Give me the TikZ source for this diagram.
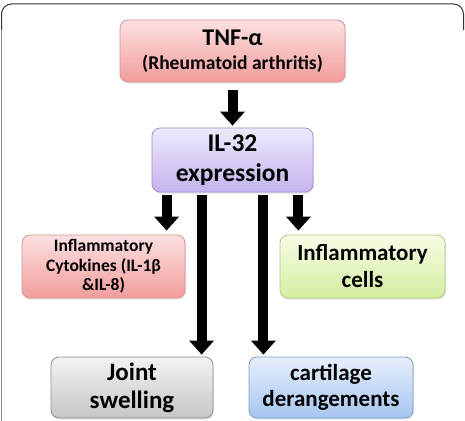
\documentclass[tikz,border=0pt]{standalone}
\usepackage{fontspec}
\setmainfont{Carlito}
\usepackage{tikz}
\usetikzlibrary{arrows.meta,positioning,shadows}
\definecolor{pinkT}{HTML}{FDE0E0}\definecolor{pinkB}{HTML}{F29C9C}\definecolor{pinkD}{HTML}{D59494}
\definecolor{lilT}{HTML}{EEE9FC}\definecolor{lilB}{HTML}{C3B4EE}\definecolor{lilD}{HTML}{A193CF}
\definecolor{grnT}{HTML}{F7FCE6}\definecolor{grnB}{HTML}{D4EDA0}\definecolor{grnD}{HTML}{B0CB84}
\definecolor{gryT}{HTML}{F2F2F2}\definecolor{gryB}{HTML}{C6C6C6}\definecolor{gryD}{HTML}{8E8E8E}
\definecolor{bluT}{HTML}{E6EFFB}\definecolor{bluB}{HTML}{A6C5F0}\definecolor{bluD}{HTML}{7C9CCB}
\tikzset{
  box/.style={rounded corners=8pt,align=center,inner sep=2pt,line width=0.8pt,
    drop shadow={opacity=0.22,shadow xshift=1pt,shadow yshift=-1.5pt}},
  pinkbox/.style={box,draw=pinkD,top color=pinkT,bottom color=pinkB},
  lilbox/.style={box,draw=lilD,top color=lilT,bottom color=lilB},
  grnbox/.style={box,draw=grnD,top color=grnT,bottom color=grnB},
  grybox/.style={box,draw=gryD,top color=gryT,bottom color=gryB},
  blubox/.style={box,draw=bluD,top color=bluT,bottom color=bluB},
  arr/.style={-{Triangle[width=24pt,length=14pt]},line width=10pt},
}

\begin{document}
\begin{tikzpicture}[x=1pt,y=-1pt]
\useasboundingbox (0,0) rectangle (465,420);
\fill[white] (0,0) rectangle (465,420);
\draw[black!45,line width=1pt] (1.5,425) -- (1.5,14);
\draw[black!80,line width=1pt,rounded corners=10pt] (1.5,30) -- (1.5,4) -- (463.5,4) -- (463.5,30);
% boxes
\node[pinkbox,minimum width=225pt,minimum height=62pt,font={\fontsize{19.5}{23}\selectfont\bfseries}] (tnf) at (232.5,51)
  {\fontsize{24}{27}\selectfont TNF-α\\[1pt](Rheumatoid arthritis)};
\node[lilbox,minimum width=161pt,minimum height=64pt,font={\fontsize{25.5}{30}\selectfont\bfseries}] (il32) at (232.5,160)
  {IL-32\\expression};
\node[pinkbox,minimum width=163pt,minimum height=63pt,font={\fontsize{17.5}{19.5}\selectfont\bfseries}] (cyto) at (103.5,266.5)
  {Inflammatory\\Cytokines (IL-1β\\\&IL-8)};
\node[grnbox,minimum width=165pt,minimum height=63pt,font={\fontsize{23}{27}\selectfont\bfseries}] (cells) at (362.5,266.5)
  {Inflammatory\\cells};
\node[grybox,minimum width=162pt,minimum height=61pt,font={\fontsize{25}{28}\selectfont\bfseries}] (joint) at (132,387.5)
  {Joint\\swelling};
\node[blubox,minimum width=164pt,minimum height=61pt,font={\fontsize{23}{26}\selectfont\bfseries}] (cart) at (331,387.5)
  {cartilage\\derangements};
% arrows
\draw[arr,shorten <=8pt,shorten >=2pt] (tnf) -- (il32);
\draw[arr,shorten <=3pt,shorten >=4pt] ([xshift=15pt]il32.south west) -- ([xshift=15pt]il32.south west |- cyto.north);
\draw[arr,shorten <=3pt,shorten >=2pt] ([xshift=50pt]il32.south west) -- ([xshift=50pt]il32.south west |- joint.north);
\draw[arr,shorten <=3pt,shorten >=2pt] ([xshift=-50pt]il32.south east) -- ([xshift=-50pt]il32.south east |- cart.north);
\draw[arr,shorten <=3pt,shorten >=4pt] ([xshift=-15pt]il32.south east) -- ([xshift=-15pt]il32.south east |- cells.north);
\end{tikzpicture}
\end{document}
